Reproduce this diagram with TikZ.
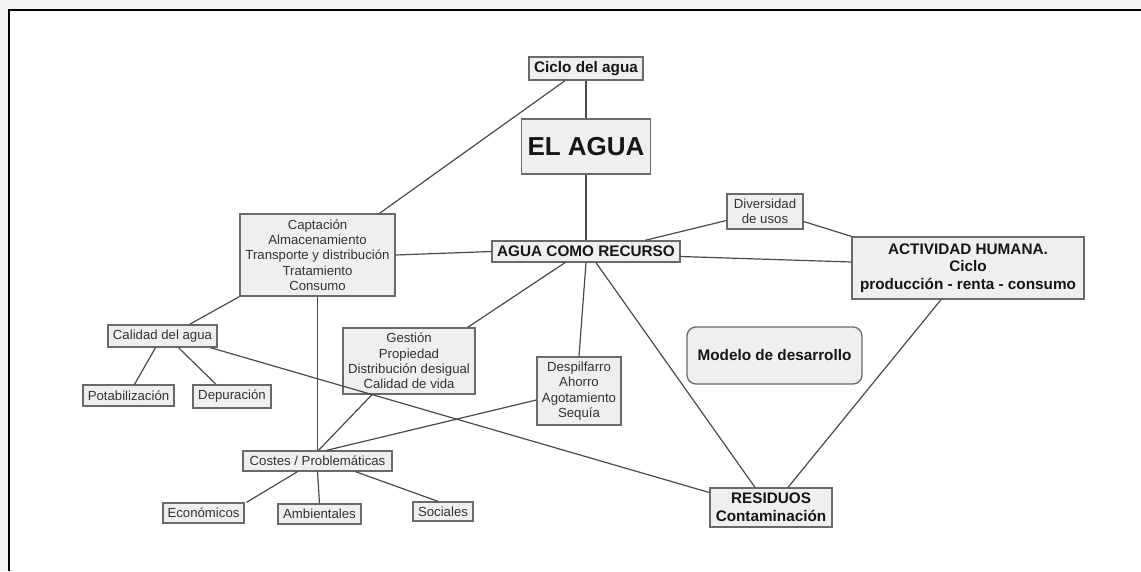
\documentclass[tikz,border=0pt]{standalone}
\usepackage{fontspec}
\setmainfont{Liberation Sans}
\definecolor{boxfill}{HTML}{EFEFEF}
\definecolor{boxline}{HTML}{6A6A6A}
\definecolor{regtext}{HTML}{333333}
\definecolor{bldtext}{HTML}{161616}
\definecolor{conn}{HTML}{4A4A4A}
\definecolor{outer}{HTML}{F4F4F4}
\begin{document}
\begin{tikzpicture}[x=1pt,y=-1pt,
  box/.style={draw=boxline, line width=1.3pt, fill=boxfill, inner sep=0pt, align=center},
  reg/.style={box, text=regtext, font=\fontsize{13.2}{15.3}\selectfont},
  bld/.style={box, text=bldtext, font=\fontsize{15.3}{17.6}\selectfont\bfseries},
  big/.style={box, text=bldtext, font=\fontsize{26}{30}\selectfont\bfseries},
  link/.style={draw=conn, line width=1.2pt}]
\useasboundingbox (0,0) rectangle (1141,571);
\fill[outer] (0,0) rectangle (1141,571);
\fill[white] (9,10) rectangle (1141,571);
\draw[black, line width=1.5pt] (9,571) -- (9,10) -- (1141,10);

% nodes
\node[bld, minimum width=114pt, minimum height=23pt] (ciclo) at (586,68.5) {Ciclo del agua};
\node[big, minimum width=129pt, minimum height=55pt] (elagua) at (586,146.5) {EL AGUA};
\node[bld, minimum width=188pt, minimum height=21pt] (recurso) at (586,251.5) {AGUA COMO RECURSO};
\node[reg, minimum width=155pt, minimum height=82pt] (capt) at (317.5,255) {Captación\\Almacenamiento\\Transporte y distribución\\Tratamiento\\Consumo};
\node[reg, minimum width=76pt, minimum height=35pt] (divers) at (765,211.5) {Diversidad\\de usos};
\node[bld, minimum width=232pt, minimum height=62pt] (activ) at (968,268) {ACTIVIDAD HUMANA.\\Ciclo\\producción - renta - consumo};
\node[bld, rounded corners=9pt, minimum width=175pt, minimum height=57pt] (modelo) at (774.5,355.5) {Modelo de desarrollo};
\node[reg, minimum width=109pt, minimum height=22pt] (calidad) at (162.5,336) {Calidad del agua};
\node[reg, minimum width=91pt, minimum height=21pt] (potab) at (128.5,395.5) {Potabilización};
\node[reg, minimum width=78pt, minimum height=23pt] (depur) at (232,396.5) {Depuración};
\node[reg, minimum width=132pt, minimum height=66pt] (gestion) at (409,361) {Gestión\\Propiedad\\Distribución desigual\\Calidad de vida};
\node[reg, minimum width=149pt, minimum height=20pt] (costes) at (317.5,461) {Costes / Problemáticas};
\node[reg, minimum width=81pt, minimum height=20pt] (econ) at (203.5,513) {Económicos};
\node[reg, minimum width=83pt, minimum height=20pt] (amb) at (319.5,514) {Ambientales};
\node[reg, minimum width=60pt, minimum height=19pt] (soc) at (443,511.5) {Sociales};
\node[reg, minimum width=84pt, minimum height=68pt] (despil) at (579,391) {Despilfarro\\Ahorro\\Agotamiento\\Sequía};
\node[bld, minimum width=122pt, minimum height=39pt] (residuos) at (771,507.5) {RESIDUOS\\Contaminación};

% connectors
\draw[link] (ciclo.south) -- (elagua.north);
\draw[link] (elagua.south) -- (recurso.north);
\draw[link] ([xshift=-21pt]ciclo.south) -- ([xshift=62pt]capt.north);
\draw[link] (capt.east) -- (recurso.west);
\draw[link] ([xshift=59pt]recurso.north) -- ([yshift=-9pt]divers.west);
\draw[link] ([yshift=-10pt]divers.east) -- (activ.north west);
\draw[link] ([yshift=-5pt]recurso.east) -- ([yshift=6pt]activ.west);
\draw[link] ([xshift=-21pt]recurso.south) -- ([xshift=-8pt]gestion.north east);
\draw[link] (recurso.south) -- (despil.north);
\draw[link] ([xshift=10pt]recurso.south) -- ([xshift=-16pt]residuos.north);
\draw[link] ([xshift=-27pt]activ.south) -- ([xshift=17pt]residuos.north);
\draw[link] (capt.south west) -- ([xshift=27pt]calidad.north);
\draw[link] (capt.south) -- (costes.north);
\draw[link] ([xshift=-7pt]calidad.south) -- ([xshift=6pt]potab.north);
\draw[link] ([xshift=16pt]calidad.south) -- ([xshift=-16pt]depur.north);
\draw[link] ([xshift=48pt]calidad.south) -- ([yshift=15pt]residuos.west);
\draw[link] ([xshift=-37pt]gestion.south) -- ([xshift=1pt]costes.north);
\draw[link] ([yshift=-9pt]despil.west) -- ([xshift=9pt]costes.north);
\draw[link] ([xshift=-20pt]costes.south) -- ([xshift=43pt]econ.north);
\draw[link] (costes.south) -- (amb.north);
\draw[link] ([xshift=38pt]costes.south) -- ([xshift=-5pt]soc.north);
\end{tikzpicture}
\end{document}
